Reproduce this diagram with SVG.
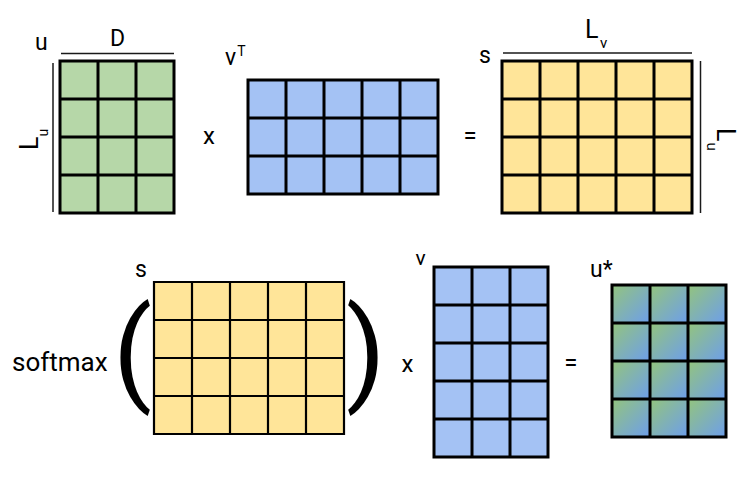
<svg xmlns="http://www.w3.org/2000/svg" width="747" height="477" viewBox="0 0 747 477">
<defs>
<linearGradient id="mix" x1="0" y1="0" x2="1" y2="1">
<stop offset="0" stop-color="#93c47d"/>
<stop offset="1" stop-color="#6d9eeb"/>
</linearGradient>
</defs>
<style>
text{font-family:Roboto,"Liberation Sans",sans-serif;fill:#000}
.lbl{font-size:23px}
.op{font-size:24px}
.grid{fill:none;stroke:#000;stroke-width:3;stroke-linecap:square}
.thin{stroke-width:2.2}
.green{fill:#b6d7a8}
.blue{fill:#a4c2f4}
.yellow{fill:#ffe599}
.dim{stroke:#1a1a1a;stroke-width:1.5;fill:none}
.paren{font-size:114px}
</style>
<rect width="747" height="477" fill="#fff"/>

<g id="matrix-u">
<rect class="green" x="60" y="61" width="114" height="152"/>
<path class="grid" d="M60 61H174V213H60Z M98 61V213 M136 61V213 M60 99H174 M60 137H174 M60 175H174"/>
</g>

<g id="matrix-vT">
<rect class="blue" x="248" y="80" width="190" height="114"/>
<path class="grid" d="M248 80H438V194H248Z M286 80V194 M324 80V194 M362 80V194 M400 80V194 M248 118H438 M248 156H438"/>
</g>

<g id="matrix-s-top">
<rect class="yellow" x="502" y="61" width="190" height="152"/>
<path class="grid" d="M502 61H692V213H502Z M540 61V213 M578 61V213 M616 61V213 M654 61V213 M502 99H692 M502 137H692 M502 175H692"/>
</g>

<g id="matrix-s-bottom">
<rect class="yellow" x="154" y="282" width="190" height="152"/>
<path class="grid thin" d="M154 282H344V434H154Z M192 282V434 M230 282V434 M268 282V434 M306 282V434 M154 320H344 M154 358H344 M154 396H344"/>
</g>

<g id="matrix-v">
<rect class="blue" x="434" y="267" width="114" height="190"/>
<path class="grid" d="M434 267H548V457H434Z M472 267V457 M510 267V457 M434 305H548 M434 343H548 M434 381H548 M434 419H548"/>
</g>

<g id="matrix-u-star">
<rect fill="url(#mix)" x="612" y="285" width="38" height="38"/><rect fill="url(#mix)" x="650" y="285" width="38" height="38"/><rect fill="url(#mix)" x="688" y="285" width="38" height="38"/>
<rect fill="url(#mix)" x="612" y="323" width="38" height="38"/><rect fill="url(#mix)" x="650" y="323" width="38" height="38"/><rect fill="url(#mix)" x="688" y="323" width="38" height="38"/>
<rect fill="url(#mix)" x="612" y="361" width="38" height="38"/><rect fill="url(#mix)" x="650" y="361" width="38" height="38"/><rect fill="url(#mix)" x="688" y="361" width="38" height="38"/>
<rect fill="url(#mix)" x="612" y="399" width="38" height="38"/><rect fill="url(#mix)" x="650" y="399" width="38" height="38"/><rect fill="url(#mix)" x="688" y="399" width="38" height="38"/>
<path class="grid" d="M612 285H726V437H612Z M650 285V437 M688 285V437 M612 323H726 M612 361H726 M612 399H726"/>
</g>

<g id="connectors">
<path class="dim" d="M61 53.5H174"/>
<path class="dim" d="M53 63V212"/>
<path class="dim" d="M503 53H692"/>
<path class="dim" d="M700.5 61V213"/>
</g>

<g id="labels">
<text class="lbl" x="35" y="50">u</text>
<text class="lbl" x="117.5" y="45.5" text-anchor="middle">D</text>
<text transform="translate(38,150) rotate(-90)" font-size="25">L<tspan font-size="14" dy="10">u</tspan></text>
<text class="lbl" x="225" y="65">v<tspan font-size="14" dy="-9" dx="1">T</tspan></text>
<text class="op" x="203" y="143.5">x</text>
<text class="op" x="463.6" y="143.5">=</text>
<text class="lbl" x="479" y="63.3">s</text>
<text x="585" y="38" font-size="25">L<tspan font-size="15" dy="10" dx="1.5">v</tspan></text>
<text transform="translate(717,128) rotate(90)" font-size="25">L<tspan font-size="15" dy="10" dx="1">u</tspan></text>
<text x="12" y="371" font-size="26">softmax</text>
<text class="paren" x="113" y="390">(</text>
<text class="paren" x="346" y="390">)</text>
<text class="lbl" x="135" y="276.7">s</text>
<text x="415.5" y="265" font-size="21">v</text>
<text class="op" x="401.5" y="372">x</text>
<text class="op" x="564.3" y="370.5">=</text>
<text class="lbl" x="590" y="276.7">u*</text>
</g>
</svg>
